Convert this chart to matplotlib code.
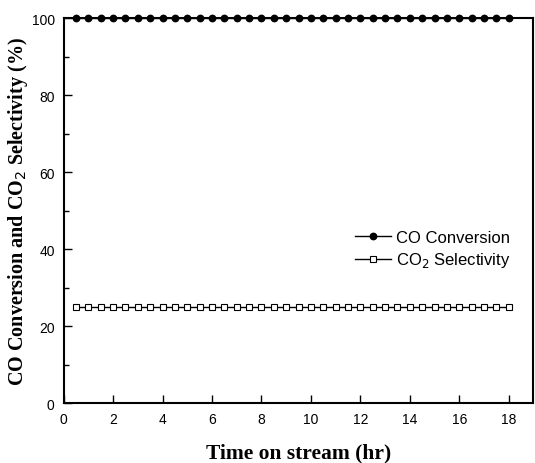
import matplotlib
matplotlib.use('Agg')
import matplotlib.pyplot as plt
from matplotlib.ticker import MultipleLocator

# time on stream (hr)
time_hr = [0.5, 1.0, 1.5, 2.0, 2.5, 3.0, 3.5, 4.0, 4.5, 5.0, 5.5, 6.0,
           6.5, 7.0, 7.5, 8.0, 8.5, 9.0, 9.5, 10.0, 10.5, 11.0, 11.5, 12.0,
           12.5, 13.0, 13.5, 14.0, 14.5, 15.0, 15.5, 16.0, 16.5, 17.0, 17.5, 18.0]
co_conversion = [100] * len(time_hr)
co2_selectivity = [25] * len(time_hr)

plt.rcParams['font.family'] = ['Liberation Sans', 'DejaVu Sans']

fig = plt.figure(figsize=(5.35, 4.64), dpi=100)
ax = fig.add_axes([0.119, 0.129, 0.878, 0.83])

ax.plot(time_hr, co_conversion, color='black', lw=1, marker='o', ms=4.6,
        mfc='black', mec='black', label='CO Conversion', clip_on=False, zorder=5)
ax.plot(time_hr, co2_selectivity, color='black', lw=1, marker='s', ms=4.5,
        mfc='white', mec='black', mew=0.8, label='CO$_2$ Selectivity')

ax.set_xlim(0, 19)
ax.set_ylim(0, 100)
ax.set_xticks(range(0, 19, 2))
ax.yaxis.set_major_locator(MultipleLocator(20))
ax.yaxis.set_minor_locator(MultipleLocator(10))
ax.tick_params(direction='in', which='both', labelsize=10, length=5.5, width=1, pad=6.5)
ax.tick_params(which='minor', length=3.5)
for s in ax.spines.values():
    s.set_linewidth(1.5)

ax.set_xlabel('Time on stream (hr)', family='Liberation Serif', fontweight='bold',
              fontsize=15.5, labelpad=12)
ax.set_ylabel('CO Conversion and CO$_2$ Selectivity (%)', family='Liberation Serif',
              fontweight='bold', fontsize=14.5, labelpad=1)

ax.legend(loc='center right', bbox_to_anchor=(0.951, 0.399), frameon=False,
          borderaxespad=0, borderpad=0,
          fontsize=12, handlelength=2.15, handletextpad=0.3, labelspacing=0.35)

plt.savefig('out.png', dpi=100)
